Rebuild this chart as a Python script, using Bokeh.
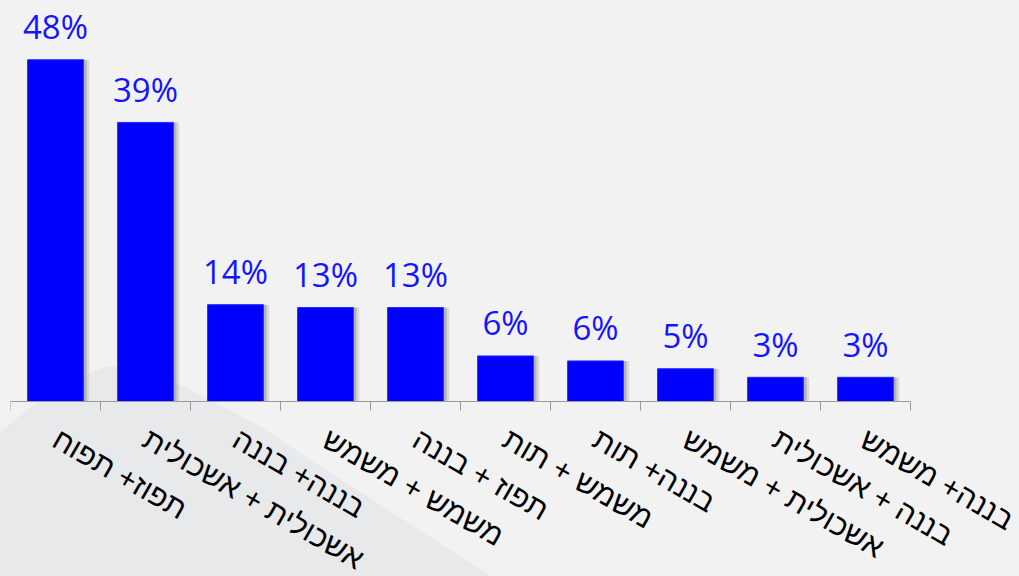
import math
from bokeh.plotting import figure
from bokeh.models import ColumnDataSource, FixedTicker, LinearAxis, Range1d
from bokeh.core.properties import value
from bokeh.embed import file_html
from bokeh.resources import INLINE

# ---- data ----
categories = [
    "תפוז+ תפוח",
    "אשכולית + אשכולית",
    "בננה+ בננה",
    "משמש + משמש",
    "תפוז + בננה",
    "משמש + תות",
    "בננה+ תות",
    "אשכולית + משמש",
    "בננה + אשכולית",
    "בננה+ משמש",
]
shares = [48.0, 39.2, 13.6, 13.2, 13.2, 6.4, 5.7, 4.6, 3.4, 3.4]
share_labels = ["48%", "39%", "14%", "13%", "13%", "6%", "6%", "5%", "3%", "3%"]

positions = list(range(1, len(categories) + 1))
boundaries = [i + 0.5 for i in range(0, len(categories) + 1)]

BG = "#f2f2f2"
WEDGE = "#e8e9eb"
BAR = "#0000ff"
PX_PER_PCT = 7.12
PX_PER_CAT = 90.0
ABOVE_PX = 391   # frame pixels above the zero line
BELOW_PX = 175   # frame pixels below the zero line
FRAME_W = 1009   # frame spans to the right edge so labels are not clipped

src = ColumnDataSource(dict(
    x=positions,
    share=shares,
    label=share_labels,
    sx1=[v + 0.035 for v in positions],
    sx2=[v + 0.065 for v in positions],
))

p = figure(width=1019, height=576,
           x_range=Range1d(0.5, 0.5 + FRAME_W / PX_PER_CAT),
           y_range=Range1d(-BELOW_PX / PX_PER_PCT, ABOVE_PX / PX_PER_PCT),
           output_backend="svg", toolbar_location=None,
           x_axis_location=None, y_axis_location=None,
           min_border_left=10, min_border_right=0,
           min_border_top=10, min_border_bottom=0)
p.background_fill_alpha = 0
p.border_fill_alpha = 0
p.outline_line_color = None
p.xgrid.visible = False
p.ygrid.visible = False

# bar shadows
p.vbar(x="sx2", top="share", bottom=0, width=0.62, source=src,
       fill_color="#7a7a7a", fill_alpha=0.2, line_color=None)
p.vbar(x="sx1", top="share", bottom=0, width=0.62, source=src,
       fill_color="#7a7a7a", fill_alpha=0.4, line_color=None)
# bars
p.vbar(x="x", top="share", bottom=0, width=0.62, source=src,
       fill_color=BAR, line_color="#2a2aff", line_width=1)

# value labels
p.text(x="x", y="share", text="label", source=src,
       text_align="center", text_baseline="alphabetic", y_offset=-33,
       text_font=value("Open Sans"), text_font_size="33px", text_color="#1414ff")

# tick axis (category boundaries), pinned at zero
tick_axis = LinearAxis(ticker=FixedTicker(ticks=boundaries), fixed_location=0,
                       bounds=(boundaries[0], boundaries[-1]))
tick_axis.axis_line_color = "#9a9a9a"
tick_axis.major_tick_line_color = "#9a9a9a"
tick_axis.major_tick_out = 9
tick_axis.major_tick_in = 0
tick_axis.minor_tick_line_color = None
tick_axis.major_label_overrides = {b: "" for b in boundaries}
tick_axis.major_label_standoff = 0
p.add_layout(tick_axis, "below")

# category label axis, pinned at zero
label_axis = LinearAxis(ticker=FixedTicker(ticks=positions), fixed_location=0)
label_axis.axis_line_color = None
label_axis.major_tick_line_color = None
label_axis.minor_tick_line_color = None
label_axis.major_tick_out = 0
label_axis.major_tick_in = 0
label_axis.major_label_overrides = {pos: cat for pos, cat in zip(positions, categories)}
label_axis.major_label_orientation = -math.pi / 6
label_axis.major_label_standoff = 35
label_axis.major_label_text_font = "Liberation Sans"
label_axis.major_label_text_font_size = "30px"
label_axis.major_label_text_color = "#000000"
p.add_layout(label_axis, "below")

# page background with the decorative darker wedge behind the chart
wedge_svg = (
    "<svg xmlns='http://www.w3.org/2000/svg' width='1019' height='576'>"
    "<path d='M0,433 C40,396 90,366 117,366 C150,366 200,395 260,426 "
    "L300,453 L497,580 L0,580 Z' fill='" + WEDGE.replace("#", "%23") + "'/></svg>"
)
css = (
    "<style>html,body{margin:0;padding:0;background-color:" + BG + ";"
    "background-image:url(\"data:image/svg+xml;utf8," + wedge_svg + "\");"
    "background-repeat:no-repeat;background-position:0 0;}</style>"
)

html = file_html(p, INLINE)
html = html.replace("</head>", css + "</head>", 1)
open("out.html", "w").write(html)
